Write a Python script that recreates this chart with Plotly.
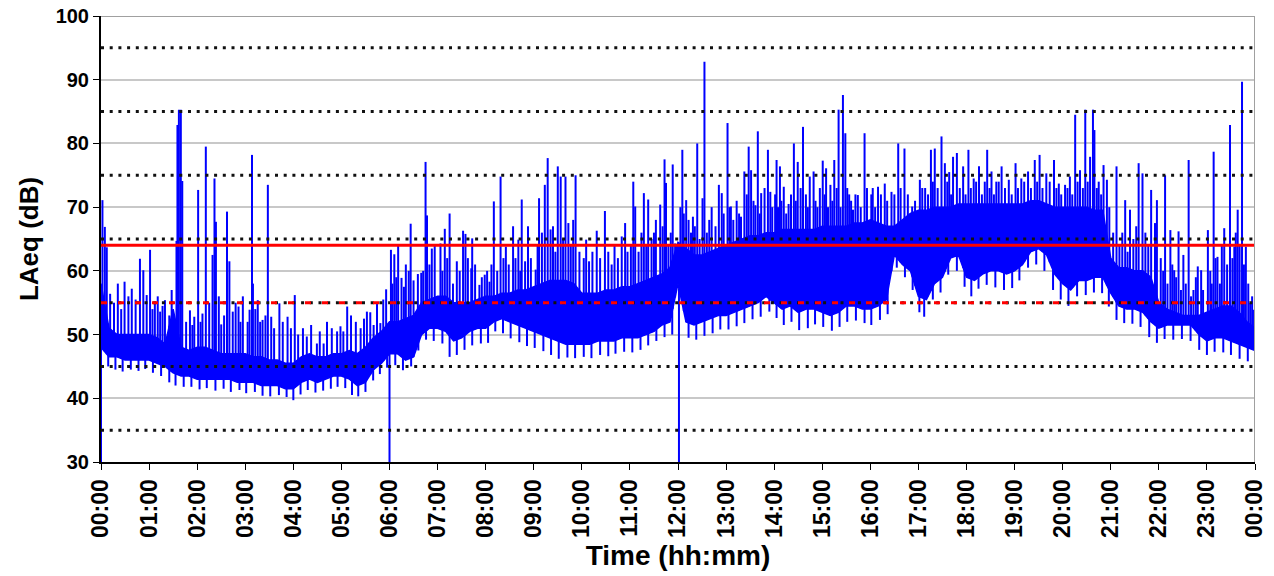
import numpy as np
import plotly.graph_objects as go

# 10-minute slots over 24 h (minutes after midnight)
slot_min = list(range(0, 1441, 10))

# Solid core of the LAeq trace per 10-minute slot (dB): lower and upper edge
band_low = [
    48, 46.5, 46.5, 46, 46, 46,
    46, 45.5, 45, 44, 43.5, 43.5,
    43, 43, 43, 43, 43, 42.5,
    42.5, 42.5, 42, 42, 42, 41.5,
    41.5, 42.5, 43, 42.5, 43, 43.5,
    43.5, 43, 42, 42.5, 44.5, 45.5,
    47, 47, 46, 46.5, 50, 51,
    51, 50.5, 49, 49.5, 50.5, 51,
    51, 52, 52.5, 52, 51.5, 51,
    50.5, 50, 49.5, 49, 48.5, 48.5,
    48.5, 48.5, 49, 49, 49, 49.5,
    49.5, 49.5, 50, 50.5, 51.5, 52,
    58, 52, 51.5, 52, 52.5, 53,
    53, 53.5, 54, 54.5, 55, 56,
    55, 54, 54.5, 53.5, 54, 54,
    53.5, 53, 53.5, 54.5, 54.5, 54,
    54, 54.5, 55.5, 62.5, 61, 60,
    56, 55.5, 58, 59, 62, 62.5,
    59, 58.5, 59.5, 60, 60, 59.5,
    60, 61, 63, 63.5, 62.5, 59.5,
    58, 57, 58.5, 58.5, 59, 59,
    56.5, 54.5, 54, 54, 53.5, 52,
    51, 51.5, 51.5, 51.5, 51.5, 50,
    49, 49.5, 49.5, 49, 48.5, 48,
    47.5,
]
band_high = [
    58, 51, 50, 50, 50, 50,
    50, 49.5, 48.5, 54, 48, 47.5,
    48, 48, 47.5, 47, 47, 47,
    47, 46.5, 46.5, 46, 46, 45.5,
    45.5, 46.5, 47, 46.5, 46.5, 47,
    47, 47.5, 47, 48, 49.5, 50.5,
    52, 52, 52.5, 53, 55, 55.5,
    56, 56, 55, 55, 55, 55.5,
    56, 56, 56.5, 56.5, 57, 57,
    57.5, 58, 58.5, 58.5, 58.5, 58,
    56.5, 56.5, 56.5, 57, 57, 57.5,
    57.5, 58, 58.5, 59, 59.5, 60.5,
    64.5, 63.5, 62.5, 62.5, 63, 63.5,
    64, 64.5, 65, 65.5, 65.5, 66,
    66, 66.5, 66.5, 66.5, 66.5, 66.5,
    67, 67, 67, 67, 67.5, 67.5,
    68, 67.5, 67, 67, 68, 69,
    69.5, 69.5, 70, 70, 70, 70.5,
    70.5, 70.5, 70.5, 70.5, 70.5, 70.5,
    70.5, 70.5, 71, 71, 70.5, 70,
    70, 70, 70, 70, 69.5, 69.5,
    62, 60.5, 60.5, 60, 60, 59,
    55, 54, 53.5, 53, 53, 53,
    53.5, 54, 54.5, 54.5, 53.5, 52,
    51,
]

# Short noise events: time (h) and peak level (dB)
peak_hour = [
    0.03, 0.08, 0.12, 0.19, 0.35, 0.49, 0.64, 0.81, 0.88, 0.95, 1.02, 1.12, 1.23, 1.33,
    1.57, 1.59, 1.62, 1.66, 1.69, 1.85, 1.94,
    2.02, 2.11, 2.18, 2.32, 2.36, 2.39, 2.50, 2.62, 2.67, 2.74, 2.86, 2.95,
    3.09, 3.14, 3.16, 3.26, 3.36, 3.47, 3.54, 3.71, 3.88,
    4.03, 4.28, 4.49, 4.63, 4.91, 4.98, 5.12, 5.53, 5.67, 5.81, 5.93,
    6.03, 6.10, 6.18, 6.25, 6.34, 6.44, 6.59, 6.66, 6.75, 6.78, 6.88, 6.94,
    7.06, 7.15, 7.25, 7.53, 7.58, 7.70, 7.72, 7.87, 7.98,
    8.08, 8.17, 8.31, 8.42, 8.57, 8.68, 8.75, 8.88,
    9.04, 9.11, 9.23, 9.29, 9.35, 9.50, 9.56, 9.66, 9.72, 9.87,
    10.09, 10.31, 10.48, 10.68, 10.83, 10.90,
    11.07, 11.11, 11.29, 11.38, 11.54, 11.63, 11.72, 11.75, 11.89, 11.94,
    12.09, 12.17, 12.31, 12.40, 12.51, 12.55, 12.70, 12.85, 12.91,
    13.03, 13.10, 13.31, 13.38, 13.47, 13.52, 13.61, 13.66, 13.73, 13.87, 13.92,
    14.05, 14.12, 14.20, 14.30, 14.41, 14.49, 14.60, 14.74, 14.82, 14.90,
    15.01, 15.08, 15.17, 15.25, 15.34, 15.43, 15.48, 15.56, 15.64, 15.74, 15.88,
    16.05, 16.16, 16.30, 16.44, 16.58, 16.71, 16.87,
    17.03, 17.14, 17.26, 17.34, 17.48, 17.55, 17.64, 17.72, 17.80, 17.93,
    18.04, 18.15, 18.26, 18.43, 18.52, 18.62, 18.73, 18.88,
    19.02, 19.14, 19.28, 19.42, 19.52, 19.66, 19.82, 19.92,
    20.05, 20.15, 20.26, 20.36, 20.47, 20.57, 20.63, 20.66, 20.75, 20.85, 20.92,
    21.12, 21.30, 21.40, 21.58, 21.66, 21.84, 21.92, 21.96,
    22.13, 22.24, 22.32, 22.41, 22.51, 22.62, 22.72, 22.81, 22.88,
    23.02, 23.14, 23.22, 23.36, 23.48, 23.57, 23.64, 23.73, 23.81, 23.90, 23.98,
]
peak_db = [
    71.1, 66.9, 63.7, 56.4, 58.0, 58.3, 57.2, 61.9, 60.1, 56.2, 63.3, 54.9, 53.6, 55.4,
    64.7, 82.9, 85.3, 85.3, 74.1, 53.8, 52.8,
    72.7, 53.3, 79.5, 62.5, 74.5, 67.7, 51.6, 69.3, 61.5, 53.6, 54.4, 56.0,
    53.9, 78.2, 58.0, 55.4, 52.3, 73.5, 52.8, 54.9, 52.8,
    56.2, 49.7, 48.6, 48.6, 50.5, 51.3, 54.4, 53.6, 51.5, 51.8, 57.1,
    63.3, 62.6, 64.2, 58.9, 61.0, 67.4, 59.5, 59.7, 77.1, 68.7, 63.5, 64.0,
    64.3, 66.6, 69.0, 66.3, 65.8, 60.4, 65.1, 57.8, 59.4,
    58.3, 70.9, 74.8, 63.8, 67.0, 64.9, 71.2, 67.0,
    60.2, 71.4, 73.5, 77.7, 66.5, 76.4, 74.8, 74.8, 67.5, 75.0,
    64.9, 66.3, 69.4, 63.9, 65.4, 67.5,
    74.0, 70.1, 72.2, 71.2, 68.0, 70.4, 77.5, 73.8, 76.7, 64.3,
    79.0, 71.1, 68.5, 80.0, 71.4, 92.8, 70.0, 73.5, 72.2,
    83.2, 70.1, 68.5, 75.6, 79.5, 75.8, 70.3, 81.9, 72.2, 79.0, 72.4,
    77.4, 76.4, 73.2, 70.5, 80.0, 77.1, 82.6, 74.8, 75.6, 70.0,
    77.3, 76.1, 73.5, 77.4, 85.3, 87.6, 81.6, 72.0, 69.6, 71.9, 81.6,
    73.0, 73.2, 73.7, 72.4, 80.0, 79.2, 70.1,
    74.3, 73.0, 79.0, 79.2, 81.1, 76.9, 75.5, 77.9, 78.5, 76.4,
    79.0, 74.5, 76.4, 79.0, 75.6, 74.0, 76.4, 74.3,
    76.9, 74.5, 75.6, 77.4, 78.2, 75.3, 77.4, 73.7,
    73.5, 74.8, 84.5, 75.8, 85.3, 77.9, 85.3, 82.1, 74.0, 76.6, 74.3,
    76.4, 71.1, 69.6, 76.9, 75.3, 72.7, 67.5, 71.1,
    75.0, 66.4, 60.1, 66.2, 62.5, 77.4, 57.0, 60.7, 60.1,
    66.4, 78.7, 62.2, 66.7, 82.9, 63.8, 69.6, 89.7, 63.8, 54.9, 53.9,
]

# Smaller fluctuations above the core: time (h) and level (dB)
minor_hour = [
    0.27, 0.42, 0.57, 0.72,
    1.07, 1.18, 1.28, 1.42, 1.47, 1.77, 1.90,
    2.07, 2.25, 2.45, 2.56, 2.80, 2.90,
    3.05, 3.21, 3.31, 3.42, 3.60, 3.78, 3.95,
    4.10, 4.20, 4.37, 4.55, 4.70, 4.80, 5.04,
    5.20, 5.30, 5.40, 5.47, 5.60, 5.74, 5.87,
    6.06, 6.14, 6.30, 6.40, 6.50, 6.70, 6.83,
    7.10, 7.20, 7.32, 7.40, 7.46, 7.63, 7.78, 7.92,
    8.03, 8.12, 8.24, 8.37, 8.48, 8.62, 8.72, 8.82, 8.94,
    9.08, 9.17, 9.40, 9.45, 9.61, 9.77, 9.82, 9.95,
    10.04, 10.15, 10.22, 10.38, 10.55, 10.62, 10.75, 10.95,
    11.02, 11.18, 11.24, 11.34, 11.45, 11.50, 11.68, 11.80, 11.85,
    12.05, 12.12, 12.22, 12.27, 12.35, 12.45, 12.60, 12.65, 12.78, 12.95,
    13.07, 13.15, 13.22, 13.27, 13.43, 13.57, 13.70, 13.80, 13.96,
    14.02, 14.08, 14.15, 14.25, 14.35, 14.45, 14.55, 14.66, 14.70, 14.86, 14.95,
    15.05, 15.12, 15.21, 15.30, 15.38, 15.52, 15.60, 15.69, 15.80, 15.93,
    16.02, 16.10, 16.22, 16.35, 16.50, 16.63, 16.78, 16.93,
    17.08, 17.20, 17.30, 17.40, 17.60, 17.68, 17.86, 17.98,
    18.09, 18.20, 18.32, 18.38, 18.48, 18.57, 18.67, 18.80, 18.94,
    19.07, 19.20, 19.34, 19.47, 19.58, 19.73, 19.87, 19.97,
    20.10, 20.20, 20.31, 20.42, 20.52, 20.71, 20.80, 20.97,
    21.05, 21.18, 21.24, 21.35, 21.47, 21.53, 21.72, 21.78,
    22.04, 22.09, 22.18, 22.28, 22.36, 22.46, 22.56, 22.67, 22.77, 22.92,
    23.07, 23.10, 23.18, 23.27, 23.31, 23.42, 23.53, 23.60, 23.68, 23.77, 23.86, 23.94,
]
minor_db = [
    55, 54, 56, 55.5,
    54, 56, 54.5, 53, 57, 52, 51.5,
    52, 55, 56, 53, 55, 52,
    52, 54, 52, 53, 51, 52, 51,
    50, 51, 51.5, 50.5, 52, 51, 50.5,
    53, 52, 51, 52.5, 53.5, 55, 55.5,
    58, 59, 57.5, 60, 58.5, 60, 61,
    60, 62, 58, 61.5, 60, 62, 61, 59,
    60, 61, 60, 62, 61, 62, 60, 61.5, 62,
    64, 66, 67, 63, 65, 64, 68, 63,
    62, 61.5, 63, 62, 63, 61, 62, 63,
    64, 63, 66, 64, 65, 66, 67, 64, 66,
    70, 69, 68, 66, 67, 65, 66, 68, 67, 69,
    70, 68, 71, 69, 72, 71, 69, 73, 70,
    72, 70, 71, 69, 72, 71, 73, 72, 70, 71, 73,
    72, 70, 71, 73, 70, 73, 71, 72, 70, 73,
    72, 70, 72, 71, 72, 73, 72, 71,
    73, 72, 74, 73, 74, 72, 73, 72,
    73, 74, 72, 74, 73, 72, 74, 73, 72,
    73, 74, 73, 74, 73, 74, 73, 72,
    73, 72, 74, 73, 74, 73, 72, 70,
    66, 64, 66, 63, 65, 67, 66, 64,
    62, 60, 58, 61, 59, 57, 58, 56, 59, 57,
    60, 58, 62, 58, 64, 61, 62, 66, 64, 61, 58, 56,
]

# Brief quiet moments below the core: time (h) and level (dB)
trough_hour = [
    0.15, 0.30, 0.45, 0.62, 0.78, 0.92, 1.08, 1.25, 1.42, 1.55, 1.72, 1.88,
    2.05, 2.20, 2.38, 2.55, 2.70, 2.88, 3.02, 3.20, 3.36, 3.52, 3.70, 3.86,
    4.00, 4.15, 4.30, 4.46, 4.62, 4.78, 4.92, 5.08, 5.22, 5.35, 5.50, 5.66, 5.80, 5.95,
    6.12, 6.28, 6.45, 6.60, 6.76, 6.92, 7.10, 7.25, 7.40, 7.56, 7.72, 7.90,
    8.05, 8.20, 8.36, 8.52, 8.70, 8.86, 9.02, 9.20, 9.36, 9.52, 9.70, 9.86,
    10.04, 10.20, 10.38, 10.55, 10.70, 10.88, 11.05, 11.22, 11.38, 11.55, 11.72, 11.88,
    12.08, 12.22, 12.38, 12.55, 12.72, 12.88, 13.05, 13.22, 13.38, 13.55, 13.72, 13.90,
    14.05, 14.20, 14.36, 14.52, 14.70, 14.85, 15.02, 15.20, 15.36, 15.52, 15.70, 15.88,
    16.02, 16.20, 16.36, 16.55, 16.72, 16.88, 17.02, 17.12, 17.30, 17.46, 17.62, 17.80,
    17.96, 18.10, 18.25, 18.42, 18.60, 18.78, 18.95, 19.10, 19.28, 19.45, 19.62, 19.80,
    19.96, 20.12, 20.30, 20.48, 20.65, 20.82, 20.96, 21.12, 21.28, 21.45, 21.62, 21.80,
    21.96, 22.12, 22.30, 22.48, 22.66, 22.84, 23.00, 23.16, 23.34, 23.50, 23.68, 23.85,
]
trough_db = [
    45, 44.5, 44.2, 44.5, 44.3, 44.6, 44, 43.5, 42.5, 42, 41.8, 41.8,
    41.4, 41.6, 41.2, 41.5, 41, 41.3, 40.8, 41, 40.4, 40.3, 40.5, 40.2,
    39.7, 40.6, 41.3, 40.9, 41.2, 41.5, 41.8, 41.6, 40.5, 40.3, 41, 42.8, 43.8, 44.8,
    45.2, 44.4, 45, 47.5, 49.2, 49, 48.6, 46.5, 46.8, 47.6, 48.3, 48.6,
    48.7, 50.5, 50.2, 49.4, 48.8, 48.2, 47.9, 47.4, 46.8, 46.2, 46.4, 46.3,
    46.5, 46.3, 46.8, 46.6, 47, 47.3, 47.2, 47.6, 48.3, 49, 49.6, 50,
    55, 49.5, 49.2, 49.8, 50.2, 50.8, 50.8, 51.3, 51.8, 52.4, 52.8, 53.6,
    52.6, 51.5, 52, 50.7, 51, 51.6, 51.2, 50.6, 51.2, 52, 52.2, 51.8,
    51.5, 52.3, 53.2, 60.5, 59, 57, 53.5, 52.8, 55.5, 56.6, 59.4, 60,
    57.5, 56, 57.2, 57.8, 57.4, 57, 57.3, 58.5, 60.5, 61, 60, 57,
    55.5, 54.5, 56, 56.2, 56.6, 56.5, 54.4, 52.3, 51.8, 51.7, 51.2, 49.6,
    48.7, 49.3, 49.2, 49.3, 49, 47.6, 46.8, 47.3, 47.2, 46.8, 46.2, 45.8,
]

# Drop-outs to the bottom of the scale
dropout_hour = [0.0, 6.0, 12.02]
dropout_db = [30, 30, 30]

# Reference levels (dB)
limit_solid = 64
limit_dashed = 55
dotted_levels = [35, 45, 55, 65, 75, 85, 95]

tick_hours = list(range(0, 25))
tick_text = [f"{h % 24:02d}:00" for h in tick_hours]

BLUE = "#0000ff"
FONT = "Liberation Sans, Arial, sans-serif"

slot_hour = np.array(slot_min) / 60.0
low_arr = np.array(band_low, dtype=float)
high_arr = np.array(band_high, dtype=float)


def segments(hours, levels, edge):
    """Vertical strokes from the core edge to each level."""
    xs, ys = [], []
    for h, v in zip(hours, levels):
        base = float(np.interp(h, slot_hour, edge))
        xs += [h, h, None]
        ys += [base, v, None]
    return xs, ys


fig = go.Figure()

# solid core
fig.add_trace(go.Scatter(x=slot_hour, y=band_low, mode="lines",
                         line=dict(color=BLUE, width=1.5), hoverinfo="skip"))
fig.add_trace(go.Scatter(x=slot_hour, y=band_high, mode="lines", fill="tonexty",
                         fillcolor=BLUE, line=dict(color=BLUE, width=1.5), hoverinfo="skip"))

# fluctuations above and below the core
for hrs, lvls, edge, w in [
    (minor_hour, minor_db, low_arr, 2.0),
    (trough_hour, trough_db, high_arr, 2.0),
    (peak_hour, peak_db, low_arr, 2.0),
    (dropout_hour, dropout_db, low_arr, 2.0),
]:
    xs, ys = segments(hrs, lvls, edge)
    fig.add_trace(go.Scatter(x=xs, y=ys, mode="lines",
                             line=dict(color=BLUE, width=w), hoverinfo="skip"))

# dotted reference grid
for lv in dotted_levels:
    fig.add_trace(go.Scatter(x=[0, 24], y=[lv, lv], mode="lines",
                             line=dict(color="#111111", width=3, dash="3px,5.7px"),
                             hoverinfo="skip"))

# limit lines
fig.add_trace(go.Scatter(x=[0, 24], y=[limit_dashed, limit_dashed], mode="lines",
                         line=dict(color="#ff0000", width=3, dash="6px,11px"),
                         hoverinfo="skip"))
fig.add_trace(go.Scatter(x=[0, 24], y=[limit_solid, limit_solid], mode="lines",
                         line=dict(color="#ff0000", width=3), hoverinfo="skip"))

# frame top / right
fig.add_shape(type="line", x0=0, x1=24, y0=100, y1=100, xref="x", yref="y",
              line=dict(color="#a0a0a0", width=2), layer="above")
fig.add_shape(type="line", x0=24, x1=24, y0=30, y1=100, xref="x", yref="y",
              line=dict(color="#a0a0a0", width=2), layer="above")

fig.update_layout(
    width=1274, height=576,
    margin=dict(l=101, r=19, t=16, b=114, autoexpand=False),
    paper_bgcolor="white", plot_bgcolor="white",
    showlegend=False,
    font=dict(family=FONT, color="black"),
    xaxis=dict(
        range=[0, 24], tickvals=tick_hours, ticktext=tick_text, tickangle=-90,
        tickfont=dict(family=FONT, size=23, weight="bold", color="black"),
        ticks="outside", ticklen=6, tickcolor="black", tickwidth=1,
        showline=True, linecolor="black", linewidth=2, showgrid=False, zeroline=False,
        automargin=False,
        title=dict(text="Time (hh:mm)", standoff=8,
                   font=dict(family=FONT, size=28, weight="bold", color="black")),
    ),
    yaxis=dict(
        range=[30, 100], dtick=10, tick0=30,
        tickfont=dict(family=FONT, size=20, weight="bold", color="black"),
        ticks="outside", ticklen=6, tickcolor="black", tickwidth=1,
        showline=True, linecolor="black", linewidth=2,
        showgrid=True, gridcolor="#c8c8c8", gridwidth=1.5, zeroline=False,
        automargin=False,
        title=dict(text="LAeq (dB)", standoff=10,
                   font=dict(family=FONT, size=26, weight="bold", color="black")),
    ),
)

fig.write_html("out.html")
